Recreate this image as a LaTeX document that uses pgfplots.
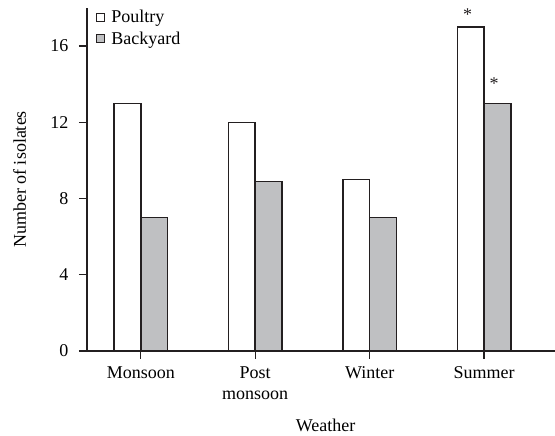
\documentclass[border=0pt]{standalone}
\usepackage{fontspec}
\setmainfont{Liberation Serif}
\usepackage{pgfplots}
\pgfplotsset{compat=1.18}
\definecolor{barfill}{RGB}{191,192,194}
\definecolor{ink}{RGB}{35,31,32}
\newcommand{\chartfont}{\fontsize{18}{21}\selectfont}

\begin{document}
\begin{tikzpicture}
\useasboundingbox (-87pt,-85pt) rectangle (468pt,351pt);
\begin{axis}[
    at={(0,0)}, anchor=south west,
    scale only axis, width=468pt, height=343pt,
    ybar,
    xmin=-0.47, xmax=3.62, ymin=0, ymax=18,
    axis x line*=bottom, axis y line*=left,
    axis line style={line width=1.6pt, ink},
    tick align=outside, major tick length=8pt,
    tick style={line width=1.4pt, ink},
    xtick={0,1,2,3},
    xticklabels={Monsoon, Post\\monsoon, Winter, Summer},
    xticklabel style={align=center, font=\chartfont, yshift=-4pt},
    ytick={0,4,8,12,16},
    yticklabel style={font=\chartfont, xshift=-7pt},
    /pgf/number format/assume math mode=true,
    xlabel={Weather},
    ylabel={Number of isolates},
    xlabel style={font=\chartfont, at={(axis description cs:0.51,0)}, anchor=base, yshift=-80.7pt},
    ylabel style={font=\chartfont, at={(axis description cs:0,0.5)}, anchor=base, yshift=61pt},
    legend style={draw=none, fill=none, at={(axis description cs:0,1)}, anchor=north west,
        xshift=9pt, font=\chartfont, row sep=3.5pt, inner sep=0pt,
        /tikz/every odd column/.append style={column sep=4pt}},
    legend cell align=left,
    clip=false,
]

% Poultry
\addplot[bar width=0.2336, bar shift=-0.1168, fill=white, draw=ink, line width=1.5pt,
    legend image code/.code={\draw[fill=white, draw=ink, line width=1.2pt] (0pt,-4pt) rectangle (8pt,4pt);}]
    coordinates {(0,13) (1,12) (2,9) (3,17)};
\addlegendentry{Poultry}

% Backyard
\addplot[bar width=0.2336, bar shift=0.1168, fill=barfill, draw=ink, line width=1.5pt,
    legend image code/.code={\draw[fill=barfill, draw=ink, line width=1.2pt] (0pt,-4pt) rectangle (8pt,4pt);}]
    coordinates {(0,7) (1,8.9) (2,7) (3,13)};
\addlegendentry{Backyard}

% significance marks
\node[text=ink, font=\chartfont] at (axis cs:2.857,17.67) {*};
\node[text=ink, font=\chartfont] at (axis cs:3.0875,14.05) {*};

\end{axis}
\end{tikzpicture}
\end{document}
